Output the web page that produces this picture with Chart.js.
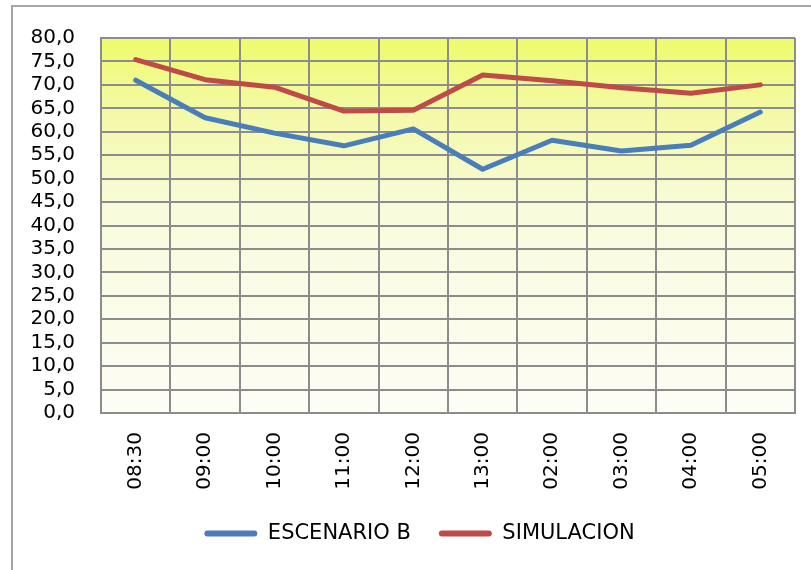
<!DOCTYPE html>
<html>
<head>
<meta charset="utf-8">
<script src="https://cdn.jsdelivr.net/npm/chart.js@4/dist/chart.umd.min.js"></script>
<style>
  html, body { margin: 0; padding: 0; background: #ffffff; }
  #wrap { position: relative; width: 811px; height: 570px; overflow: hidden; }
  #frame { position: absolute; left: 11px; top: 5px; width: 820px; height: 600px;
           border-left: 2px solid #a6a6a6; border-top: 2px solid #a6a6a6; box-sizing: border-box; pointer-events: none; }
  canvas { position: absolute; left: 0; top: 0; }
</style>
</head>
<body>
<div id="wrap">
  <canvas id="c" width="811" height="570"></canvas>
  <div id="frame"></div>
</div>
<script>
const categories = ["08:30", "09:00", "10:00", "11:00", "12:00", "13:00", "02:00", "03:00", "04:00", "05:00"];
const escenarioB = [71.0, 63.0, 59.7, 57.0, 60.6, 52.0, 58.2, 55.9, 57.1, 64.2];
const simulacion = [75.4, 71.1, 69.5, 64.4, 64.6, 72.1, 70.9, 69.4, 68.2, 70.0];
const seriesNames = ["ESCENARIO B", "SIMULACION"];
const yMin = 0, yMax = 80, yStep = 5;

const bgPlugin = {
  id: 'plotBg',
  beforeDraw(chart) {
    const a = chart.chartArea, ctx = chart.ctx;
    const g = ctx.createLinearGradient(0, a.top, 0, a.bottom);
    g.addColorStop(0, '#eefb6c');
    g.addColorStop(0.21, '#f4f9aa');
    g.addColorStop(0.46, '#f9fbdc');
    g.addColorStop(1, '#fdfdf6');
    ctx.save();
    ctx.fillStyle = g;
    ctx.fillRect(a.left, a.top, a.right - a.left, a.bottom - a.top);
    ctx.restore();
  }
};

// shift the legend block to the right (layout only)
const legendShift = {
  id: 'legendShift',
  afterLayout(chart) {
    if (chart.legend) { chart.legend.left += 22; chart.legend.right += 22; }
  }
};

const gridColor = '#8c8c8c';
const tickFont = { family: 'DejaVu Sans', size: 20 };

new Chart(document.getElementById('c'), {
  type: 'line',
  data: {
    labels: categories,
    datasets: [
      { label: seriesNames[0], data: escenarioB, borderColor: '#4a7ebb', backgroundColor: '#4a7ebb',
        borderWidth: 5, pointRadius: 0, borderCapStyle: 'round', borderJoinStyle: 'round', tension: 0 },
      { label: seriesNames[1], data: simulacion, borderColor: '#be4b48', backgroundColor: '#be4b48',
        borderWidth: 5, pointRadius: 0, borderCapStyle: 'round', borderJoinStyle: 'round', tension: 0 }
    ]
  },
  options: {
    responsive: false,
    animation: false,
    devicePixelRatio: 1,
    layout: { padding: { left: 0, right: 16, top: 33, bottom: 16 } },
    plugins: {
      tooltip: { enabled: false },
      legend: {
        position: 'bottom',
        labels: {
          font: { family: 'DejaVu Sans', size: 21 },
          color: '#000000',
          boxWidth: 53,
          boxHeight: 6,
          padding: 28,
          useBorderRadius: true,
          borderRadius: 3,
          generateLabels(chart) {
            const items = Chart.defaults.plugins.legend.labels.generateLabels(chart);
            items.forEach(it => { it.lineWidth = 0; it.fillStyle = it.strokeStyle; it.borderRadius = 3; });
            return items;
          }
        }
      }
    },
    scales: {
      x: {
        type: 'category',
        offset: true,
        grid: { color: gridColor, lineWidth: 2, offset: true, drawTicks: false },
        border: { color: gridColor, width: 2 },
        ticks: { font: tickFont, color: '#000000', minRotation: 90, maxRotation: 90, autoSkip: false, padding: 19 },
        afterFit(scale) { scale.height = 82; }
      },
      y: {
        min: yMin, max: yMax,
        grid: { color: gridColor, lineWidth: 2, drawTicks: false },
        border: { color: gridColor, width: 2 },
        ticks: {
          stepSize: yStep,
          autoSkip: false,
          font: tickFont,
          color: '#000000',
          padding: 26,
          callback: v => Number(v).toFixed(1).replace('.', ',')
        },
        afterFit(scale) { scale.width = 101; }
      }
    }
  },
  plugins: [bgPlugin, legendShift]
});
</script>
</body>
</html>
